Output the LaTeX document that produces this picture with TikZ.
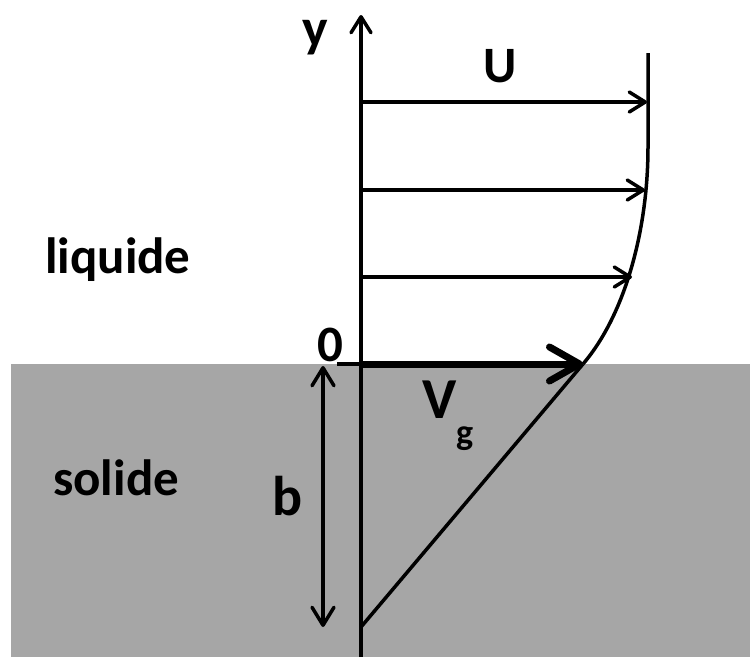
\documentclass[tikz,border=0pt]{standalone}
\usepackage{fontspec}
\setmainfont{Carlito}
\usetikzlibrary{arrows.meta}
\definecolor{solidgrey}{HTML}{A6A6A6}
\begin{document}
\begin{tikzpicture}[x=1pt,y=-1pt,
  lbl/.style={inner sep=0pt,font=\bfseries\fontsize{51}{60}\selectfont},
  thin/.style={line width=3.5pt},
  vel/.style={line width=3.5pt,-{Straight Barb[length=16pt,width=20pt,line width=3.5pt,round]}},
  big/.style={line width=7pt,-{Straight Barb[length=30pt,width=34pt,line width=7pt,round]}},
  dim/.style={line width=3.5pt,{Straight Barb[length=18pt,width=22pt,line width=3.5pt,round]}-{Straight Barb[length=18pt,width=22pt,line width=3.5pt,round]}}]
\useasboundingbox (0,0) rectangle (750,657);
\fill[solidgrey] (11,364) rectangle (750,657);
% coordinates
\coordinate (ax0) at (361,657);
\coordinate (axt) at (361,15);
\coordinate (o) at (361,364);
\coordinate (ol) at (337,364);
\coordinate (vg) at (583,364);
\coordinate (bot) at (361,627);
\coordinate (ptop) at (648,53);
\coordinate (pk) at (648,147);
\coordinate (a1) at (361,102);
\coordinate (a1e) at (647,102);
\coordinate (a2) at (361,190);
\coordinate (a2e) at (645,190);
\coordinate (a3) at (361,277);
\coordinate (a3e) at (632,277);
\coordinate (bt) at (323,366);
\coordinate (bb) at (323,627);
% axis
\draw[vel] (ax0) -- (axt);
\draw[thin] (ol) -- (o);
% velocity arrows
\draw[vel] (a1) -- (a1e);
\draw[vel] (a2) -- (a2e);
\draw[vel] (a3) -- (a3e);
% profile
\draw[thin] (ptop) -- (pk) .. controls (648,230) and (625,315) .. (vg);
\draw[thin] (vg) -- (bot);
% Vg arrow
\draw[big] (o) -- (vg);
% b dimension
\draw[dim] (bt) -- (bb);
% labels
\node[lbl,anchor=base,font=\bfseries\fontsize{54}{62}\selectfont] (ylab) at (315,46) {y};
\node[lbl,anchor=base] (ulab) at (500,82) {U};
\node[lbl,anchor=base west] (liq) at (45,273) {liquide};
\node[lbl,anchor=base west] (sol) at (53,495) {solide};
\node[lbl,anchor=base] (zero) at (330,361) {0};
\node[lbl,anchor=base west,font=\bfseries\fontsize{58}{66}\selectfont] (vlab) at (422,418) {V};
\node[lbl,anchor=base west,font=\bfseries\fontsize{36}{42}\selectfont] (glab) at (456,444) {g};
\node[lbl,anchor=base west,font=\bfseries\fontsize{56}{64}\selectfont] (blab) at (272,515) {b};
\end{tikzpicture}
\end{document}
